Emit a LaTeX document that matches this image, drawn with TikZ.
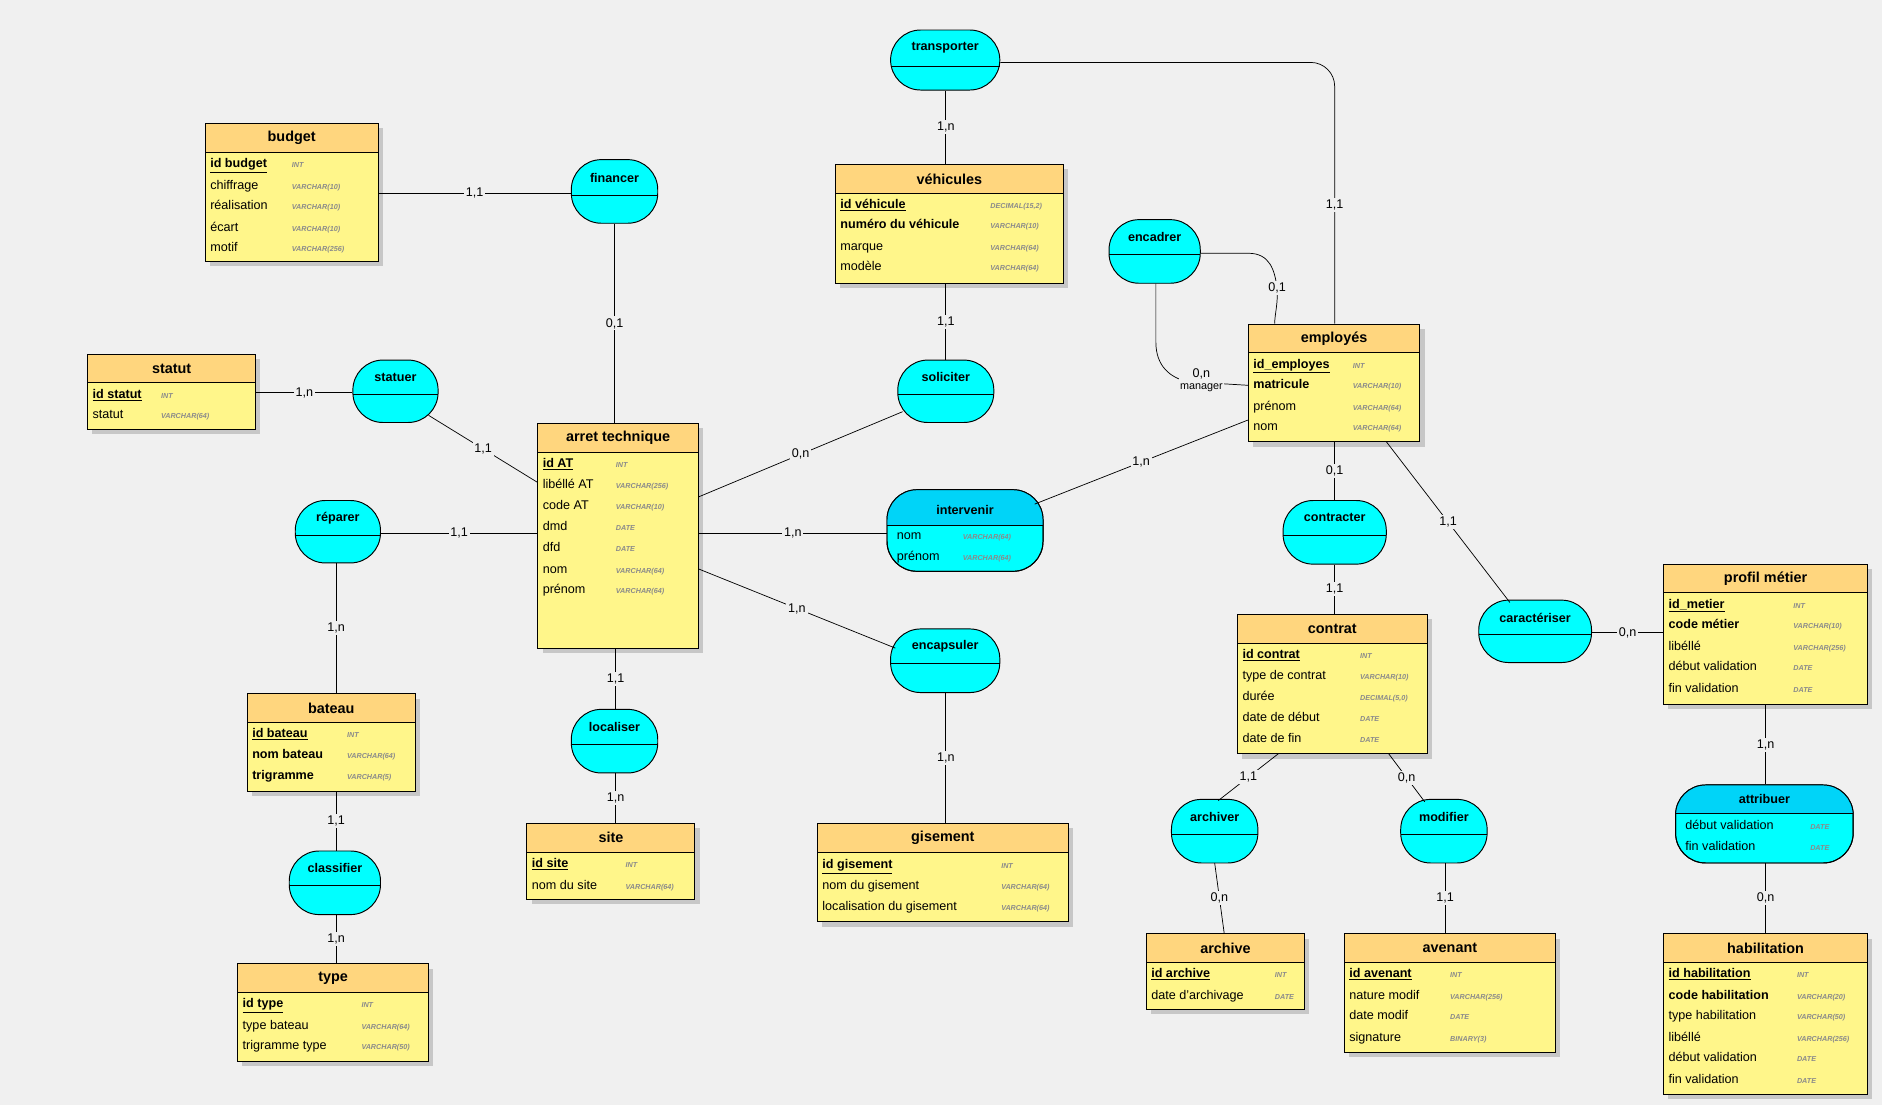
\documentclass[tikz,border=0pt]{standalone}
\usepackage{fontspec}
\setmainfont{Liberation Sans}
\usetikzlibrary{calc}
\definecolor{bg}{HTML}{F0F0F0}
\definecolor{ybody}{HTML}{FFF68A}
\definecolor{yhead}{HTML}{FFD67E}
\definecolor{cy}{HTML}{00FFFF}
\definecolor{cyh}{HTML}{00D4F8}
\definecolor{tgrey}{HTML}{8A8A8A}
\tikzset{
 entbox/.style={draw=black, fill=ybody, inner sep=0pt, line width=0.8pt},
 assocbox/.style={draw=black, fill=cy, inner sep=0pt, line width=0.8pt, rounded corners=25pt},
 ttl/.style={font=\bfseries\fontsize{12}{14}\selectfont},
 att/.style={anchor=west, inner sep=0pt, text height=8pt, text depth=2.5pt, font=\fontsize{10.5}{12}\selectfont},
 typ/.style={anchor=west, inner sep=0pt, text height=5pt, text depth=1.5pt, text=tgrey, font=\bfseries\itshape\fontsize{6}{7}\selectfont},
 lnk/.style={line width=0.6pt},
 card/.style={fill=bg, inner sep=1.5pt, font=\fontsize{10.5}{12}\selectfont},
 shd/.style={fill=black!22}
}
\newcommand\ent[6]{%
 \fill[shd] (#2+4,#3+4) rectangle (#4+4,#5+4);
 \node[entbox, minimum width={(#4-#2)*1pt}, minimum height={(#5-#3)*1pt}] (#1) at ({(#2+#4)/2},{(#3+#5)/2}) {};
 \fill[yhead] (#2,#3) rectangle (#4,#3+24);
 \draw[line width=0.8pt] (#2,#3) rectangle (#4,#5);
 \draw[line width=0.8pt] (#2,#3+24) -- (#4,#3+24);
 \node[ttl] (#1-t) at ({(#2+#4)/2},#3+12) {#6};
}
\newcommand\asc[7]{% name x1 y1 x2 y2 title divider
 \node[assocbox, minimum width={(#4-#2)*1pt}, minimum height={(#5-#3)*1pt}] (#1) at ({(#2+#4)/2},{(#3+#5)/2}) {};
 \draw[line width=0.8pt] (#2,#7) -- (#4,#7);
 \node[ttl, font=\bfseries\fontsize{10.5}{12}\selectfont] (#1-t) at ({(#2+#4)/2},{(#3+#7)/2}) {#6};
}
\newcommand\rw[5]{% x y text tx type
 \node[att] at (#1,#2) {#3};
 \node[typ] at (#4,#2+1) {#5};
}
\newcommand\pk[1]{\underline{\textbf{#1}}}
\begin{document}
\begin{tikzpicture}[x=1pt,y=-1pt]
\fill[bg] (0,0) rectangle (1568,921);
\useasboundingbox (0,0) rectangle (1568,921);

% ---------- entities ----------
\ent{budget}{171}{103}{315}{218}{budget}
\rw{175}{137}{\pk{id budget}}{243}{INT}
\rw{175}{155}{chiffrage}{243}{VARCHAR(10)}
\rw{175}{172}{réalisation}{243}{VARCHAR(10)}
\rw{175}{190}{écart}{243}{VARCHAR(10)}
\rw{175}{207}{motif}{243}{VARCHAR(256)}

\ent{statut}{73}{295}{213}{358}{statut}
\rw{77}{329}{\pk{id statut}}{134}{INT}
\rw{77}{346}{statut}{134}{VARCHAR(64)}

\ent{vehic}{696}{137}{886}{236}{véhicules}
\rw{700}{171}{\pk{id véhicule}}{825}{DECIMAL(15,2)}
\rw{700}{188}{\textbf{numéro du véhicule}}{825}{VARCHAR(10)}
\rw{700}{206}{marque}{825}{VARCHAR(64)}
\rw{700}{223}{modèle}{825}{VARCHAR(64)}

\ent{arret}{448}{353}{582}{540}{arret technique}
\rw{452}{387}{\pk{id AT}}{513}{INT}
\rw{452}{404}{libéllé AT}{513}{VARCHAR(256)}
\rw{452}{422}{code AT}{513}{VARCHAR(10)}
\rw{452}{439}{dmd}{513}{DATE}
\rw{452}{457}{dfd}{513}{DATE}
\rw{452}{475}{nom}{513}{VARCHAR(64)}
\rw{452}{492}{prénom}{513}{VARCHAR(64)}

\ent{empl}{1040}{270}{1183}{368}{employés}
\rw{1044}{304}{\pk{id\_employes}}{1127}{INT}
\rw{1044}{321}{\textbf{matricule}}{1127}{VARCHAR(10)}
\rw{1044}{339}{prénom}{1127}{VARCHAR(64)}
\rw{1044}{356}{nom}{1127}{VARCHAR(64)}

\ent{bateau}{206}{578}{346}{659}{bateau}
\rw{210}{612}{\pk{id bateau}}{289}{INT}
\rw{210}{629}{\textbf{nom bateau}}{289}{VARCHAR(64)}
\rw{210}{647}{\textbf{trigramme}}{289}{VARCHAR(5)}

\ent{site}{439}{686}{579}{749}{site}
\rw{443}{720}{\pk{id site}}{521}{INT}
\rw{443}{738}{nom du site}{521}{VARCHAR(64)}

\ent{gis}{681}{686}{890}{768}{gisement}
\rw{685}{721}{\pk{id gisement}}{834}{INT}
\rw{685}{738}{nom du gisement}{834}{VARCHAR(64)}
\rw{685}{756}{localisation du gisement}{834}{VARCHAR(64)}

\ent{type}{198}{803}{357}{884}{type}
\rw{202}{837}{\pk{id type}}{301}{INT}
\rw{202}{855}{type bateau}{301}{VARCHAR(64)}
\rw{202}{872}{trigramme type}{301}{VARCHAR(50)}

\ent{contrat}{1031}{512}{1189}{628}{contrat}
\rw{1035}{546}{\pk{id contrat}}{1133}{INT}
\rw{1035}{563}{type de contrat}{1133}{VARCHAR(10)}
\rw{1035}{581}{durée}{1133}{DECIMAL(5,0)}
\rw{1035}{598}{date de début}{1133}{DATE}
\rw{1035}{616}{date de fin}{1133}{DATE}

\ent{profil}{1386}{470}{1556}{587}{profil métier}
\rw{1390}{504}{\pk{id\_metier}}{1494}{INT}
\rw{1390}{521}{\textbf{code métier}}{1494}{VARCHAR(10)}
\rw{1390}{539}{libéllé}{1494}{VARCHAR(256)}
\rw{1390}{556}{début validation}{1494}{DATE}
\rw{1390}{574}{fin validation}{1494}{DATE}

\ent{archive}{955}{778}{1087}{841}{archive}
\rw{959}{812}{\pk{id archive}}{1062}{INT}
\rw{959}{830}{date d'archivage}{1062}{DATE}

\ent{avenant}{1120}{778}{1296}{877}{avenant}
\rw{1124}{812}{\pk{id avenant}}{1208}{INT}
\rw{1124}{830}{nature modif}{1208}{VARCHAR(256)}
\rw{1124}{847}{date modif}{1208}{DATE}
\rw{1124}{865}{signature}{1208}{BINARY(3)}

\ent{habil}{1386}{778}{1556}{912}{habilitation}
\rw{1390}{812}{\pk{id habilitation}}{1497}{INT}
\rw{1390}{830}{\textbf{code habilitation}}{1497}{VARCHAR(20)}
\rw{1390}{847}{type habilitation}{1497}{VARCHAR(50)}
\rw{1390}{865}{libéllé}{1497}{VARCHAR(256)}
\rw{1390}{882}{début validation}{1497}{DATE}
\rw{1390}{900}{fin validation}{1497}{DATE}

% ---------- associations ----------
\asc{transp}{742}{25}{833}{75}{transporter}{55}
\asc{financer}{476}{133}{548}{186}{financer}{163}
\asc{encadrer}{924}{183}{1000}{236}{encadrer}{212}
\asc{statuer}{294}{300}{365}{352}{statuer}{329}
\asc{solic}{748}{300}{828}{352}{soliciter}{329}
\asc{reparer}{246}{417}{317}{469}{réparer}{446}
\asc{contracter}{1069}{417}{1155}{470}{contracter}{446}
\asc{caract}{1232}{500}{1326}{552}{caractériser}{529}
\asc{encaps}{742}{524}{833}{577}{encapsuler}{553}
\asc{localiser}{476}{591}{548}{644}{localiser}{620}
\asc{classif}{241}{709}{317}{762}{classifier}{738}
\asc{archiver}{976}{666}{1048}{719}{archiver}{695}
\asc{modifier}{1167}{666}{1239}{719}{modifier}{695}
% intervenir
\node[assocbox, minimum width=130pt, minimum height=68pt] (interv) at (804,442) {};
\begin{scope}
\clip[rounded corners=25pt] (739,408) rectangle (869,476);
\fill[cyh] (739,408) rectangle (869,438);
\end{scope}
\draw[line width=0.8pt, rounded corners=25pt] (739,408) rectangle (869,476);
\draw[line width=0.8pt] (739,438) -- (869,438);
\node[ttl, font=\bfseries\fontsize{10.5}{12}\selectfont] at (804,425) {intervenir};
\rw{747}{447}{nom}{802}{VARCHAR(64)}
\rw{747}{464}{prénom}{802}{VARCHAR(64)}
% attribuer
\node[assocbox, minimum width=148pt, minimum height=65pt] (attrib) at (1470,686.5) {};
\begin{scope}
\clip[rounded corners=25pt] (1396,654) rectangle (1544,719);
\fill[cyh] (1396,654) rectangle (1544,678);
\end{scope}
\draw[line width=0.8pt, rounded corners=25pt] (1396,654) rectangle (1544,719);
\draw[line width=0.8pt] (1396,678) -- (1544,678);
\node[ttl, font=\bfseries\fontsize{10.5}{12}\selectfont] at (1470,666) {attribuer};
\rw{1404}{688}{début validation}{1508}{DATE}
\rw{1404}{706}{fin validation}{1508}{DATE}

% ---------- links ----------
\begin{scope}[lnk]
\draw (budget.east |- 0,161) -- node[card]{1,1} (financer.west |- 0,161);
\draw (financer.south) -- node[card]{0,1} (arret.north -| financer.south);
\draw (statut.east |- 0,327) -- node[card]{1,n} (statuer.west |- 0,327);
\draw (357,346) -- node[card]{1,1} (448,402);
\draw (reparer.east |- 0,444) -- node[card]{1,1} (arret.west |- 0,444);
\draw (reparer.south -| 280,0) -- node[card]{1,n} (bateau.north -| 280,0);
\draw (bateau.south -| 280,0) -- node[card]{1,1} (classif.north -| 280,0);
\draw (classif.south -| 280,0) -- node[card]{1,n} (type.north -| 280,0);
\draw (arret.south -| 513,0) -- node[card]{1,1} (localiser.north -| 513,0);
\draw (localiser.south -| 513,0) -- node[card]{1,n} (site.north -| 513,0);
\draw (582,414) -- node[card]{0,n} (752,343);
\draw (arret.east |- 0,444) -- node[card]{1,n} (interv.west |- 0,444);
\draw (582,474) -- node[card]{1,n} (746,540);
\draw (encaps.south -| 788,0) -- node[card]{1,n} (gis.north -| 788,0);
\draw (vehic.south -| 788,0) -- node[card]{1,1} (solic.north -| 788,0);
\draw (transp.south -| 788,0) -- node[card]{1,n} (vehic.north -| 788,0);
\draw (transp.east |- 0,52) -- (1092,52) to[out=0,in=90] (1112,72) -- node[card]{1,1} (empl.north -| 1112,0);
\draw (encadrer.east |- 0,211) -- (1040,211) .. controls (1058,211) and (1062,225) .. (1064,240) node[card]{0,1} .. controls (1065,252) and (1062,262) .. (empl.north -| 1062,0);
\draw (encadrer.south -| 963,0) -- (963,285) .. controls (963,305) and (975,315) .. (990,318) -- (empl.west |- 0,321);
\node[fill=bg, inner sep=1pt, align=center, font=\fontsize{10.5}{11}\selectfont] at (1001,317) {0,n\\[-1pt]{\fontsize{9}{10}\selectfont manager}};
\draw (empl.west |- 0,350) -- node[card]{1,n} (862,420);
\draw (empl.south -| 1112,0) -- node[card]{0,1} (contracter.north -| 1112,0);
\draw (contracter.south -| 1112,0) -- node[card]{1,1} (contrat.north -| 1112,0);
\draw (1155,368) -- node[card]{1,1} (1258,502);
\draw (caract.east |- 0,527) -- node[card]{0,n} (profil.west |- 0,527);
\draw (profil.south -| 1471,0) -- node[card]{1,n} (attrib.north -| 1471,0);
\draw (attrib.south -| 1471,0) -- node[card]{0,n} (habil.north -| 1471,0);
\draw (1065,628) -- node[card]{1,1} (1015,667);
\draw (1012,719) -- node[card]{0,n} (1020,778);
\draw (1157,628) -- node[card]{0,n} (1187,668);
\draw (modifier.south -| 1204,0) -- node[card]{1,1} (avenant.north -| 1204,0);
\end{scope}
\end{tikzpicture}
\end{document}
